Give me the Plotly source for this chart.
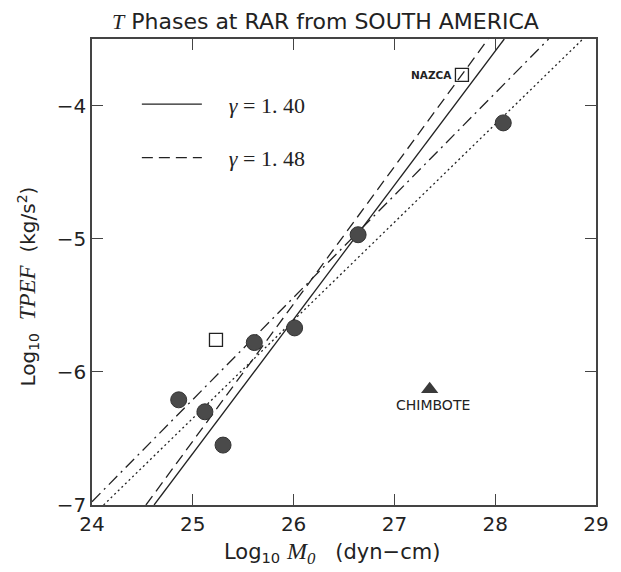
import plotly.graph_objects as go

# ---- data ----
circle_x = [24.86, 25.12, 25.30, 25.61, 26.01, 26.64, 28.08]
circle_y = [-6.21, -6.30, -6.55, -5.78, -5.67, -4.97, -4.13]

square_x = [25.23, 27.67]
square_y = [-5.76, -3.77]
square_labels = ["", "NAZCA"]

triangle_x = [27.35]
triangle_y = [-6.13]
triangle_labels = ["CHIMBOTE"]

# fitted lines (end points where they meet the frame)
solid_x = [24.616, 28.09]
solid_y = [-7.0, -3.5]
dashed_x = [24.535, 27.93]
dashed_y = [-7.0, -3.5]
dashdot_x = [24.0, 28.53]
dashdot_y = [-6.975, -3.5]
dotted_x = [24.115, 28.87]
dotted_y = [-7.0, -3.5]

x_ticks = [24, 25, 26, 27, 28, 29]
y_ticks = [-7, -6, -5, -4]

SANS = "DejaVu Sans"
SERIF = "Liberation Serif"
INK = "#222222"
NB = "\u00a0"

fig = go.Figure()

fig.add_trace(go.Scatter(x=solid_x, y=solid_y, mode="lines",
                         line=dict(color=INK, width=1.3),
                         name=NB * 4 + "<i>γ</i> = 1. 40", legendgroup="a", showlegend=True))
fig.add_trace(go.Scatter(x=dashed_x, y=dashed_y, mode="lines",
                         line=dict(color=INK, width=1.3, dash="11px,6px"),
                         name=NB * 4 + "<i>γ</i> = 1. 48", legendgroup="b", showlegend=True))
fig.add_trace(go.Scatter(x=dashdot_x, y=dashdot_y, mode="lines",
                         line=dict(color=INK, width=1.3, dash="12px,5px,2px,5px"),
                         showlegend=False))
fig.add_trace(go.Scatter(x=dotted_x, y=dotted_y, mode="lines",
                         line=dict(color=INK, width=1.3, dash="2px,3px"),
                         showlegend=False))

fig.add_trace(go.Scatter(x=circle_x, y=circle_y, mode="markers",
                         marker=dict(symbol="circle", size=16, color="#4a4a4a",
                                     line=dict(color="#333333", width=1)),
                         showlegend=False))
fig.add_trace(go.Scatter(x=square_x, y=square_y, mode="markers",
                         marker=dict(symbol="square-open", size=13, color=INK,
                                     line=dict(width=1.3)),
                         showlegend=False))
fig.add_trace(go.Scatter(x=triangle_x, y=triangle_y, mode="markers",
                         marker=dict(symbol="triangle-up", size=15, color="#3a3a3a"),
                         showlegend=False))

for x, y, t in zip(square_x, square_y, square_labels):
    if t:
        fig.add_annotation(x=x, y=y, text="<b>" + t + "</b>", showarrow=False, xanchor="right",
                           xshift=-8, font=dict(family=SANS, size=10.5, color=INK))
for x, y, t in zip(triangle_x, triangle_y, triangle_labels):
    fig.add_annotation(x=x, y=y, text=t, showarrow=False, yanchor="middle",
                       yshift=-16, xshift=3, font=dict(family=SANS, size=14, color=INK))

# title
fig.add_annotation(xref="paper", yref="paper", x=0.464, y=1.0, yshift=18,
                   text='<i><span style="font-family:Liberation Serif">T</span></i> Phases at RAR from SOUTH AMERICA',
                   showarrow=False, xanchor="center", yanchor="middle",
                   font=dict(family=SANS, size=22, color=INK))
# x axis title
fig.add_annotation(xref="paper", yref="paper", x=0.476, y=-0.103,
                   text='Log<sub>10</sub> <i><span style="font-family:Liberation Serif;font-size:24px">M<sub>0</sub></span></i>'
                        + NB * 3 + '(dyn−cm)',
                   showarrow=False, xanchor="center", yanchor="middle",
                   font=dict(family=SANS, size=21, color=INK))
# y axis title
fig.add_annotation(xref="paper", yref="paper", x=-0.1257, y=0.468, textangle=-90,
                   text='Log<sub>10</sub>' + NB * 2
                        + '<i><span style="font-family:Liberation Serif;font-size:23px">TPEF</span></i>'
                        + NB * 2 + '(kg/s<sup>2</sup>)',
                   showarrow=False, xanchor="center", yanchor="middle",
                   font=dict(family=SANS, size=20, color=INK))

axis_common = dict(showgrid=False, zeroline=False, showline=True, mirror="ticks",
                   linecolor="#444444", linewidth=1.5, ticks="inside", ticklen=11,
                   tickwidth=1.2, tickcolor="#444444",
                   tickfont=dict(family=SANS, size=20, color=INK))

fig.update_xaxes(range=[24, 29], tickvals=x_ticks, ticktext=[str(v) for v in x_ticks],
                 **axis_common)
fig.update_yaxes(range=[-7, -3.5], tickvals=y_ticks, ticktext=["−7", "−6", "−5", "−4"],
                 **axis_common)

fig.update_layout(
    width=621, height=572,
    margin=dict(l=92, r=12, t=39, b=67),
    paper_bgcolor="white", plot_bgcolor="white",
    showlegend=True,
    legend=dict(x=0.089, y=0.905, xanchor="left", yanchor="top",
                bgcolor="rgba(0,0,0,0)", itemwidth=60, tracegroupgap=22,
                traceorder="grouped",
                font=dict(family=SERIF, size=22, color=INK)),
)

fig.write_html("out.html")
